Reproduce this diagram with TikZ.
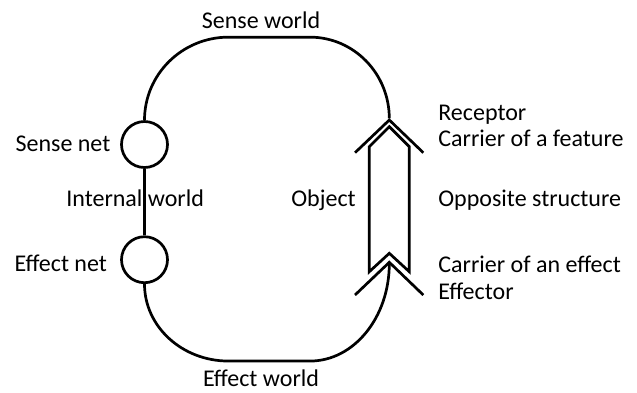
\documentclass[tikz,border=0pt]{standalone}
\usepackage{fontspec}
\setmainfont{Carlito}
\usepackage{tikz}

\begin{document}
\begin{tikzpicture}[x=1pt,y=-1pt,line width=2.7pt,
	lbl/.style={font=\fontsize{24}{28}\selectfont, inner sep=0pt},
	net/.style={draw, circle, minimum size=46pt, inner sep=0pt}]
	\useasboundingbox (0,0) rectangle (637,392);
	%\draw[help lines] (0,0) grid[step=20] (637,392);
	\node[net] (sensenet) at (144.5,144.5) {};
	\node[net] (effectnet) at (144.5,259.7) {};
	\coordinate (rtip) at (389.3,120);
	\coordinate (etip) at (389.3,262.3);
	% the circle through the outer world
	\draw (sensenet.south) -- (effectnet.north);
	\draw (sensenet.north) arc[start angle=180, end angle=270, x radius=84, y radius=83]
		-- ++(81.5,0) arc[start angle=270, end angle=360, x radius=79.3, y radius=81.3];
	\draw (effectnet.south) arc[start angle=180, end angle=90, x radius=84, y radius=77]
		-- ++(81.5,0) arc[start angle=90, end angle=0, x radius=79.3, y radius=97.4];
	% receptor, effector and the object between them
	\draw (355,152.7) -- (rtip) -- (423.3,152.7);
	\draw (355,295) -- (etip) -- (423.3,295);
	\draw[line join=miter] (369.3,271.7) -- (369.3,146.7) -- (389.3,126.7) -- (409.3,146.7)
		-- (409.3,271.7) -- (389.3,253.3) -- cycle;
	% labels
	\node[lbl, anchor=base] (senseworld) at (261,28.3) {Sense world};
	\node[lbl, anchor=base] (effectworld) at (261,386.7) {Effect world};
	\node[lbl, anchor=base east] (sensenetlbl) at (111.7,151.7) {Sense net};
	\node[lbl, anchor=base east] (effectnetlbl) at (108.3,271.5) {Effect net};
	\node[lbl, anchor=base west] (internal) at (65,206.7) {Internal world};
	\node[lbl, anchor=base west] (object) at (290,206.7) {Object};
	\node[lbl, anchor=base west] (receptor) at (437,120) {Receptor};
	\node[lbl, anchor=base west] (feature) at (437,146.7) {Carrier of a feature};
	\node[lbl, anchor=base west] (opposite) at (437,206.7) {Opposite structure};
	\node[lbl, anchor=base west] (effect) at (437,272.7) {Carrier of an effect};
	\node[lbl, anchor=base west] (effector) at (437,299.3) {Effector};
\end{tikzpicture}
\end{document}
